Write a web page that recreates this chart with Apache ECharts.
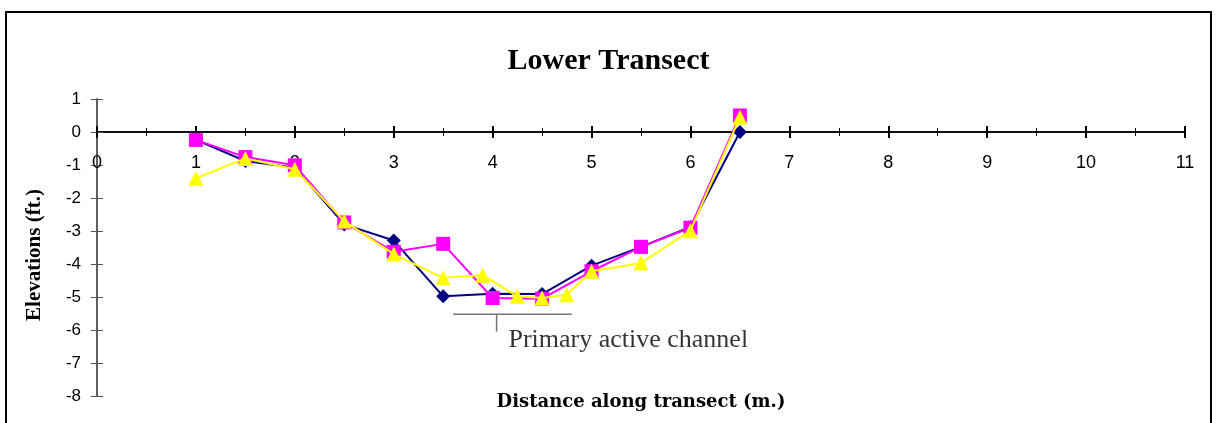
<!DOCTYPE html>
<html>
<head>
<meta charset="utf-8">
<script src="https://cdn.jsdelivr.net/npm/echarts@6/dist/echarts.min.js"></script>
<style>html,body{margin:0;padding:0;background:#fff;}#c{width:1217px;height:423px;}</style>
</head>
<body>
<div id="c"></div>
<script>
var titleText = 'Lower Transect';
var xAxisTitle = 'Distance along transect (m.)';
var yAxisTitle = 'Elevations (ft.)';
var annotationText = 'Primary active channel';

var xNavy = [1, 1.5, 2, 2.5, 3, 3.5, 4, 4.5, 5, 5.5, 6, 6.5];
var yNavy = [-0.24, -0.88, -1.08, -2.8, -3.29, -4.98, -4.9, -4.91, -4.05, -3.48, -2.88, 0];
var xMagenta = [1, 1.5, 2, 2.5, 3, 3.5, 4, 4.5, 5, 5.5, 6, 6.5];
var yMagenta = [-0.24, -0.76, -1.01, -2.74, -3.63, -3.39, -5.03, -5.05, -4.22, -3.48, -2.9, 0.5];
var xYellow = [1, 1.5, 2, 2.5, 3, 3.5, 3.9, 4.25, 4.5, 4.75, 5, 5.5, 6, 6.5];
var yYellow = [-1.4, -0.8, -1.13, -2.7, -3.7, -4.42, -4.34, -4.98, -5.03, -4.93, -4.22, -3.97, -2.99, 0.45];

// annotation bracket (data coordinates)
var bracketX = [3.6, 4.8];
var bracketY = [-5.52, -5.52];
var bracketTickX = [4.04, 4.04];
var bracketTickY = [-5.52, -6.05];
var annotationPos = [4.16, -6.3];

var xMin = 0, xMax = 11, yMin = -8, yMax = 1;

function pairs(xs, ys) { return xs.map(function (x, i) { return [x, ys[i]]; }); }

var el = document.getElementById('c');
var chart = echarts.init(el, null, { renderer: 'canvas' });
var W = chart.getWidth(), H = chart.getHeight();
var G = { left: 97, right: 32, top: 99, bottom: 27 };
var gridW = W - G.left - G.right, gridH = H - G.top - G.bottom;
// offsets that place the axes on the zero lines
var xAxisUp = gridH * (0 - yMin) / (yMax - yMin);
var xAxisDownFromTop = gridH * (yMax - 0) / (yMax - yMin);

var xBase = {
  type: 'value', min: xMin, max: xMax, interval: 1,
  axisLine: { onZero: false, lineStyle: { color: '#000', width: 1.5 } },
  splitLine: { show: false },
  minorTick: { show: true, splitNumber: 2, length: 4, lineStyle: { color: '#000', width: 1 } },
  axisTick: { length: 6, lineStyle: { color: '#000', width: 2 } }
};
var yBase = {
  type: 'value', min: yMin, max: yMax, interval: 1,
  axisLine: { show: true, onZero: false, lineStyle: { color: '#555', width: 1.5 } },
  splitLine: { show: false },
  axisTick: { show: true, length: 6, lineStyle: { color: '#555', width: 1 } }
};

var option = {
  backgroundColor: '#fff',
  animation: false,
  title: [
    { text: titleText, left: 'center', top: 41,
      textStyle: { fontFamily: 'Liberation Serif', fontWeight: 'bold', fontSize: 30, color: '#000' } },
    { text: xAxisTitle, left: 636, top: 388, textAlign: 'center',
      textStyle: { fontFamily: 'DejaVu Serif', fontWeight: 'bold', fontSize: 18, color: '#000' } }
  ],
  grid: G,
  xAxis: [
    Object.assign({}, xBase, {
      position: 'bottom', offset: -xAxisUp,
      axisLabel: { margin: 22, fontFamily: 'Liberation Sans', fontSize: 18, color: '#000' }
    }),
    Object.assign({}, xBase, {
      position: 'top', offset: -xAxisDownFromTop,
      axisLabel: { show: false }
    })
  ],
  yAxis: [
    Object.assign({}, yBase, {
      position: 'left',
      axisLabel: { margin: 16, fontFamily: 'Liberation Sans', fontSize: 17, color: '#000' }
    }),
    Object.assign({}, yBase, {
      position: 'right', offset: -gridW,
      axisLabel: { show: false }
    })
  ],
  graphic: [
    { type: 'rect', shape: { x: 6, y: 12, width: 1205, height: 430 },
      style: { fill: null, stroke: '#000', lineWidth: 2 }, z: 100, silent: true },
    { type: 'text', x: 35, y: 255, rotation: Math.PI / 2,
      style: { text: yAxisTitle, fontFamily: 'Liberation Serif', fontWeight: 'bold', fontSize: 21,
               fill: '#000', textAlign: 'center', textVerticalAlign: 'middle' } }
  ],
  series: [
    { type: 'line', data: pairs(bracketX, bracketY), symbol: 'none',
      lineStyle: { color: '#777', width: 1.5 }, silent: true, z: 1 },
    { type: 'line', data: pairs(bracketTickX, bracketTickY), symbol: 'none',
      lineStyle: { color: '#777', width: 1.5 }, silent: true, z: 1 },
    { type: 'scatter', data: [annotationPos], symbolSize: 0, silent: true,
      label: { show: true, position: 'right', distance: 0, formatter: annotationText,
               fontFamily: 'Liberation Serif', fontSize: 26, color: '#000', textBorderWidth: 0 } },
    { name: 'navy', type: 'line', data: pairs(xNavy, yNavy), symbol: 'diamond', symbolSize: 14,
      itemStyle: { color: '#000080' }, lineStyle: { color: '#000080', width: 2 }, z: 3 },
    { name: 'magenta', type: 'line', data: pairs(xMagenta, yMagenta), symbol: 'rect', symbolSize: 14,
      itemStyle: { color: '#FF00FF' }, lineStyle: { color: '#FF00FF', width: 2 }, z: 4 },
    { name: 'yellow', type: 'line', data: pairs(xYellow, yYellow), symbol: 'triangle', symbolSize: 15,
      itemStyle: { color: '#FFFF00' }, lineStyle: { color: '#FFFF00', width: 2 }, z: 5 }
  ]
};
chart.setOption(option);
</script>
</body>
</html>
